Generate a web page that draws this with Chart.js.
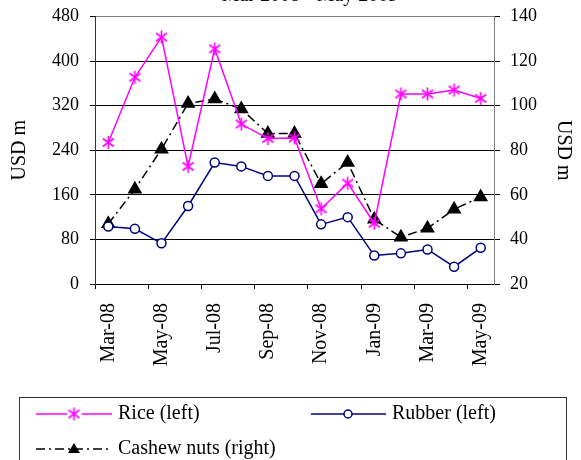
<!DOCTYPE html>
<html>
<head>
<meta charset="utf-8">
<script src="https://cdn.jsdelivr.net/npm/chart.js@4"></script>
<style>
  html, body { margin: 0; padding: 0; background: #fff; }
  #wrap { width: 581px; height: 460px; position: relative; }
</style>
</head>
<body>
<div id="wrap"><canvas id="chart" width="581" height="460"></canvas></div>
<script>
// data
const months = ['Mar-08','Apr-08','May-08','Jun-08','Jul-08','Aug-08','Sep-08','Oct-08',
                'Nov-08','Dec-08','Jan-09','Feb-09','Mar-09','Apr-09','May-09'];
const rice   = [254, 371, 443, 211, 422, 287, 261, 262, 135, 181, 109, 341, 341, 348, 333];
const rubber = [103, 99, 73, 140, 218, 211, 194, 194, 107, 120, 51, 55, 62, 31, 65];
const cashew = [47, 62.5, 80.5, 101, 103, 98.5, 87.5, 87.5, 65, 74.5, 49, 41, 45, 53.5, 59];

const FONT = "'Liberation Serif', 'Times New Roman', serif";
Chart.defaults.font.family = FONT;
Chart.defaults.color = '#000';

// asterisk marker like the spreadsheet one
function makeStar(color) {
    const c = document.createElement('canvas');
    c.width = 15; c.height = 15;
    const g = c.getContext('2d');
    g.strokeStyle = color;
    g.lineWidth = 1.6;
    g.beginPath();
    g.moveTo(7.5, 1); g.lineTo(7.5, 14);
    g.moveTo(2, 3.5); g.lineTo(13, 11.5);
    g.moveTo(2, 11.5); g.lineTo(13, 3.5);
    g.stroke();
    return c;
}
const starMarker = makeStar('#ff00ff');
const cashewDash = [9, 4, 2, 4];

// fixed axis sizes, no extra label overflow padding
function fixWidth(w) {
    return s => { s.width = w; s.paddingTop = 0; s.paddingBottom = 0; };
}

// legend drawn like the boxed one under the chart
const boxLegend = {
    id: 'boxLegend',
    afterDraw(chart) {
        const ctx = chart.ctx;
        ctx.save();
        // title, mostly cut off at the top edge
        ctx.font = '20px ' + FONT;
        ctx.fillStyle = '#000';
        ctx.textAlign = 'center';
        ctx.textBaseline = 'alphabetic';
        ctx.fillText('Mar 2008 - May 2009', 310, 0.5);

        ctx.strokeStyle = '#333';
        ctx.lineWidth = 1;
        ctx.strokeRect(19.5, 397.5, 547, 80);

        ctx.textAlign = 'left';
        ctx.textBaseline = 'middle';
        ctx.font = '20px ' + FONT;

        // Rice
        ctx.strokeStyle = '#ff00ff'; ctx.lineWidth = 1.5; ctx.setLineDash([]);
        ctx.beginPath(); ctx.moveTo(36, 414); ctx.lineTo(112, 414); ctx.stroke();
        ctx.fillStyle = '#fff'; ctx.fillRect(67, 410, 15, 8);
        ctx.drawImage(starMarker, 74 - 7.5, 414 - 7.5);
        ctx.fillStyle = '#000';
        ctx.fillText('Rice (left)', 118, 414);

        // Rubber
        ctx.strokeStyle = '#000080';
        ctx.beginPath(); ctx.moveTo(311, 414); ctx.lineTo(386, 414); ctx.stroke();
        ctx.beginPath(); ctx.arc(348, 414, 4, 0, Math.PI * 2);
        ctx.fillStyle = '#fff'; ctx.fill(); ctx.stroke();
        ctx.fillStyle = '#000';
        ctx.fillText('Rubber (left)', 392, 414);

        // Cashew
        ctx.strokeStyle = '#000'; ctx.setLineDash(cashewDash);
        ctx.beginPath(); ctx.moveTo(36, 449); ctx.lineTo(112, 449); ctx.stroke();
        ctx.setLineDash([]);
        ctx.beginPath();
        ctx.moveTo(74, 443); ctx.lineTo(80, 453); ctx.lineTo(68, 453); ctx.closePath();
        ctx.fillStyle = '#000'; ctx.fill();
        ctx.fillText('Cashew nuts (right)', 118, 449);
        ctx.restore();
    }
};

new Chart(document.getElementById('chart'), {
    type: 'line',
    data: {
        labels: months,
        datasets: [
            {
                label: 'Rice (left)',
                data: rice,
                yAxisID: 'y',
                borderColor: '#ff00ff',
                borderWidth: 1.5,
                pointStyle: starMarker,
                pointRadius: 7,
                tension: 0
            },
            {
                label: 'Rubber (left)',
                data: rubber,
                yAxisID: 'y',
                borderColor: '#000080',
                borderWidth: 1.5,
                pointStyle: 'circle',
                pointRadius: 4.5,
                pointBorderWidth: 1.5,
                pointBackgroundColor: '#fff',
                pointBorderColor: '#000080',
                tension: 0
            },
            {
                label: 'Cashew nuts (right)',
                data: cashew,
                yAxisID: 'y1',
                borderColor: '#000',
                borderWidth: 1.5,
                borderDash: cashewDash,
                pointStyle: 'triangle',
                pointRadius: 7,
                pointBackgroundColor: '#000',
                pointBorderColor: '#000',
                tension: 0
            }
        ]
    },
    options: {
        responsive: false,
        animation: false,
        layout: { padding: { top: 16.5, bottom: 76, left: 0, right: 0 } },
        plugins: {
            legend: { display: false },
            tooltip: { enabled: false }
        },
        scales: {
            x: {
                offset: true,
                grid: {
                    offset: true,
                    drawOnChartArea: false,
                    tickLength: 5,
                    tickColor: c => (c.index % 2 === 0 ? '#000' : 'rgba(0,0,0,0)')
                },
                border: { color: '#000' },
                ticks: {
                    autoSkip: false,
                    minRotation: 90,
                    maxRotation: 90,
                    padding: 14,
                    font: { size: 20 },
                    callback: function (v, i) { return i % 2 === 0 ? this.getLabelForValue(v) : ''; }
                },
                afterFit: s => { s.height = 100; s.paddingLeft = 0; s.paddingRight = 0; }
            },
            y: {
                position: 'left',
                min: 0,
                max: 480,
                ticks: { stepSize: 80, padding: 11, font: { size: 18 } },
                grid: {
                    color: c => (c.tick && c.tick.value === 480 ? '#808080' : '#000'),
                    tickColor: '#000',
                    tickLength: 5
                },
                border: { color: '#333' },
                title: { display: true, text: 'USD m', font: { size: 20 }, padding: { top: 8, bottom: 0 } },
                afterFit: fixWidth(95)
            },
            y1: {
                position: 'right',
                min: 20,
                max: 140,
                ticks: { stepSize: 20, padding: 10, font: { size: 18 } },
                grid: { drawOnChartArea: false, tickColor: '#000', tickLength: 6 },
                border: { color: '#808080' },
                title: { display: true, text: 'USD m', font: { size: 20 }, padding: { top: 6, bottom: 0 } },
                afterFit: fixWidth(87)
            }
        }
    },
    plugins: [boxLegend]
});
</script>
</body>
</html>
